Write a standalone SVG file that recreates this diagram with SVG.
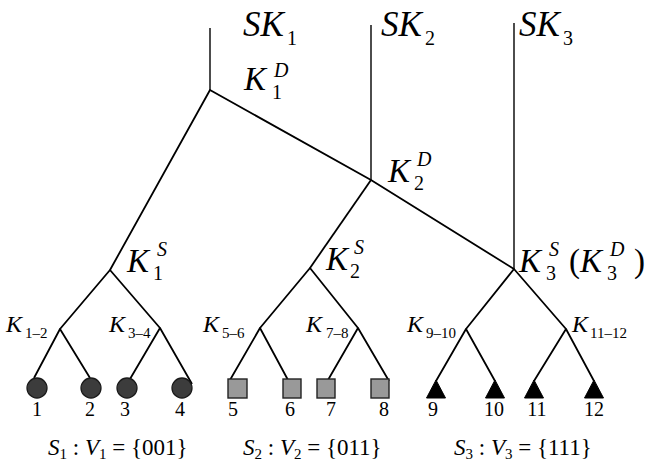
<svg xmlns="http://www.w3.org/2000/svg" width="650" height="463" viewBox="0 0 650 463">
<style>
text{font-family:'Liberation Serif','Times New Roman','DejaVu Serif',serif;fill:#000}
.i{font-style:italic}
.big{font-size:33px}
.sk{font-size:35px}
.sup{font-size:20px}
.mid{font-size:24px}
.sm{font-size:15px}
.num{font-size:20px;text-anchor:middle}
.bot{font-size:23px}
.ln{stroke:#000;stroke-width:1.8;fill:none;stroke-linejoin:round}
.vl{stroke:#000;stroke-width:1.4;fill:none}
.c{fill:#3c3c3c;stroke:#1a1a1a;stroke-width:1.3}
.s{fill:#999;stroke:#222;stroke-width:1.4}
.tr{fill:#000;stroke:#000;stroke-width:1}
</style>
<g id="connectors">
<line class="vl" x1="210" y1="28" x2="210" y2="90"/>
<line class="vl" x1="371" y1="25" x2="371" y2="180"/>
<line class="vl" x1="514" y1="23" x2="514" y2="269"/>
<polyline class="ln" points="110,270 210,90 371,180 514,269"/>
<line class="ln" x1="371" y1="180" x2="310" y2="268"/>
<polyline class="ln" points="60,329 110,270 160,328"/>
<polyline class="ln" points="260,328 310,268 358,328"/>
<polyline class="ln" points="466,329 514,269 566,329"/>
<polyline class="ln" points="34,378 60,329 90,378"/>
<polyline class="ln" points="130,379 160,328 192,384"/>
<polyline class="ln" points="230,380 260,328 288,380"/>
<polyline class="ln" points="328,380 358,328 389,381"/>
<polyline class="ln" points="436,381 466,329 495,381"/>
<polyline class="ln" points="534,381 566,329 594,381"/>
</g>
<g id="SK1"><text class="i sk" x="243" y="36">SK</text><text class="sup" x="287" y="45">1</text></g>
<g id="SK2"><text class="i sk" x="381" y="36">SK</text><text class="sup" x="425" y="45">2</text></g>
<g id="SK3"><text class="i sk" x="519" y="36">SK</text><text class="sup" x="563" y="45">3</text></g>
<g id="K1D"><text class="i big" x="244" y="90">K</text><text class="i sup" x="274" y="77">D</text><text class="sup" x="272" y="99">1</text></g>
<g id="K2D"><text class="i big" x="388" y="182">K</text><text class="i sup" x="417" y="166">D</text><text class="sup" x="414" y="190">2</text></g>
<g id="K1S"><text class="i big" x="127" y="272">K</text><text class="i sup" x="157" y="256">S</text><text class="sup" x="153" y="280">1</text></g>
<g id="K2S"><text class="i big" x="326" y="270">K</text><text class="i sup" x="354" y="254">S</text><text class="sup" x="350" y="278">2</text></g>
<g id="K3S"><text class="i big" x="519" y="272">K</text><text class="i sup" x="549" y="256">S</text><text class="sup" x="546" y="280">3</text><text class="big" x="569" y="272">(</text><text class="i big" x="580" y="272">K</text><text class="i sup" x="610" y="256">D</text><text class="sup" x="607" y="280">3</text><text class="big" x="634" y="272">)</text></g>
<g id="K12"><text class="i mid" x="6" y="332">K</text><text class="sm" x="25" y="338">1–2</text></g>
<g id="K34"><text class="i mid" x="109" y="332">K</text><text class="sm" x="128" y="338">3–4</text></g>
<g id="K56"><text class="i mid" x="203" y="332">K</text><text class="sm" x="222" y="338">5–6</text></g>
<g id="K78"><text class="i mid" x="306" y="332">K</text><text class="sm" x="326" y="338">7–8</text></g>
<g id="K910"><text class="i mid" x="407" y="332">K</text><text class="sm" x="426" y="338">9–10</text></g>
<g id="K1112"><text class="i mid" x="572" y="332">K</text><text class="sm" x="590" y="338">11–12</text></g>
<g id="leaf1"><circle class="c" cx="37" cy="388" r="10"/><text class="num" x="37" y="416">1</text></g>
<g id="leaf2"><circle class="c" cx="91" cy="388" r="10"/><text class="num" x="90" y="416">2</text></g>
<g id="leaf3"><circle class="c" cx="127" cy="388" r="10"/><text class="num" x="125" y="416">3</text></g>
<g id="leaf4"><circle class="c" cx="182" cy="388" r="10"/><text class="num" x="180" y="416">4</text></g>
<g id="leaf5"><rect class="s" x="228" y="379" width="19" height="19"/><text class="num" x="233" y="416">5</text></g>
<g id="leaf6"><rect class="s" x="283" y="379" width="18" height="19"/><text class="num" x="290" y="416">6</text></g>
<g id="leaf7"><rect class="s" x="317" y="379" width="18" height="19"/><text class="num" x="331" y="416">7</text></g>
<g id="leaf8"><rect class="s" x="371" y="379" width="18" height="19"/><text class="num" x="384" y="416">8</text></g>
<g id="leaf9"><polygon class="tr" points="436,380 445.5,398 426.5,398"/><text class="num" x="433" y="416">9</text></g>
<g id="leaf10"><polygon class="tr" points="495,380 504.5,398 485.5,398"/><text class="num" x="494" y="416">10</text></g>
<g id="leaf11"><polygon class="tr" points="534,380 543.5,398 524.5,398"/><text class="num" x="537" y="416">11</text></g>
<g id="leaf12"><polygon class="tr" points="594,380 603.5,398 584.5,398"/><text class="num" x="594" y="416">12</text></g>
<g id="set1"><text class="bot" x="48" y="455"><tspan class="i">S</tspan><tspan font-size="15" dy="4">1</tspan><tspan dy="-4"> : </tspan><tspan class="i">V</tspan><tspan font-size="15" dy="4">1</tspan><tspan dy="-4"> = {001}</tspan></text></g>
<g id="set2"><text class="bot" x="243" y="455"><tspan class="i">S</tspan><tspan font-size="15" dy="4">2</tspan><tspan dy="-4"> : </tspan><tspan class="i">V</tspan><tspan font-size="15" dy="4">2</tspan><tspan dy="-4"> = {011}</tspan></text></g>
<g id="set3"><text class="bot" x="454" y="455"><tspan class="i">S</tspan><tspan font-size="15" dy="4">3</tspan><tspan dy="-4"> : </tspan><tspan class="i">V</tspan><tspan font-size="15" dy="4">3</tspan><tspan dy="-4"> = {111}</tspan></text></g>
</svg>
